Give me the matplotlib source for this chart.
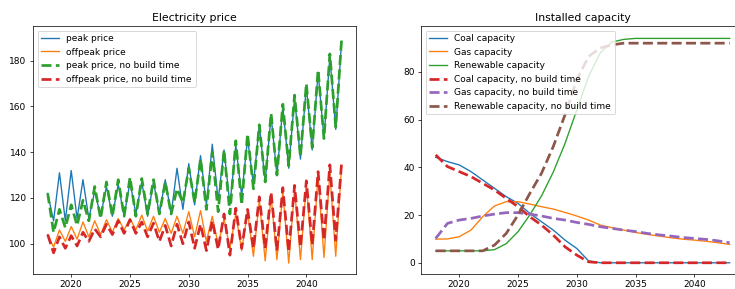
import matplotlib.pyplot as plt

# seasonal price data: winter highs at the start of each year, summer lows mid-year
peak_years = list(range(2018, 2044))
trough_years = [y + 0.5 for y in range(2018, 2043)]

peak_hi = [122, 131, 132, 128, 123, 125, 126, 127, 127, 127, 128, 133, 135,
           138.5, 143.5, 141, 143, 146, 152, 156, 160, 164, 169, 175, 182, 188.5]
peak_lo = [110, 110, 111, 111, 112, 112, 112, 113, 112, 113, 113, 115, 117,
           117, 119, 117, 121, 126, 127, 130, 133, 137, 141, 146, 150]

offpeak_hi = [104, 106, 107.5, 109.5, 110, 110.5, 111, 111, 112.5, 112, 111, 112, 114,
              114.5, 112, 111, 113, 114, 119, 121, 123, 124, 126, 130, 131, 134]
offpeak_lo = [98.5, 101, 102, 103, 104, 105, 106, 106, 105.5, 105, 104.5, 104.5, 103,
              101, 99.5, 98, 97, 94.5, 92.5, 93, 91.5, 93, 93, 94, 94.5]

peak_nb_hi = [122, 115, 117, 119, 125, 127, 128, 129, 128.5, 128, 127, 124, 133,
              137, 140, 141, 145, 148, 152, 157, 161, 165, 170, 176, 183, 189.5]
peak_nb_lo = [105, 107, 108, 110, 111, 112, 112, 112, 113, 113, 113, 118, 118,
              115, 114, 113, 117, 124, 127, 130, 134, 138, 142, 146, 151]

offpeak_nb_hi = [104, 103, 103.5, 105, 106.5, 108.5, 110, 110.5, 109.5, 109, 108, 108.5, 109.5,
                 108.5, 110, 113, 115.5, 115, 120.5, 122.5, 124.5, 125.5, 127.5, 131.5, 134.5, 135.5]
offpeak_nb_lo = [96, 98, 99, 101, 103, 104, 104.5, 104.5, 103, 101, 99, 100, 98,
                 97, 97.5, 95, 98, 98, 98, 97, 96.5, 98.5, 99.5, 101.5, 101.5]

# installed capacity, yearly
cap_years = list(range(2018, 2044))
coal = [44.2, 42.4, 41, 38.2, 34.7, 31.2, 27.7, 24.9, 20.7, 17.2, 13.7, 9.5, 6,
        0.8, 0, 0, 0, 0, 0, 0, 0, 0, 0, 0, 0, 0]
gas = [9.9, 10, 10.9, 13.7, 19.3, 23.8, 25.6, 25.6, 24.6, 23.5, 22.5, 21.1, 19.6,
       17.9, 15.8, 14.7, 13.7, 12.7, 11.9, 11.2, 10.5, 9.9, 9.5, 9.0, 8.4, 7.7]
renew = [5, 5, 5, 5, 5, 5.5, 8, 13, 20, 28, 38, 50, 64,
         78, 88, 92.5, 93.6, 94, 94, 94, 94, 94, 94, 94, 94, 94]
coal_nb = [45.2, 40.3, 38.2, 36.1, 33.3, 30.5, 27, 23.5, 19.3, 15.8, 11.6, 6.7, 3.2,
           0.4, 0, 0, 0, 0, 0, 0, 0, 0, 0, 0, 0, 0]
gas_nb = [10.2, 16.5, 17.9, 18.6, 19.6, 20.4, 21, 21, 20.4, 19.6, 18.6, 17.9, 16.9,
          16.1, 15.1, 14.4, 13.7, 13.1, 12.3, 11.7, 11.2, 10.6, 10.2, 9.8, 9.2, 8.4]
renew_nb = [5, 5, 5, 5, 5, 7.4, 12.3, 20, 29, 37.5, 48.7, 62, 76.6,
            86.4, 90, 91.3, 92, 92, 92, 92, 92, 92, 92, 92, 92, 92]


def zigzag(highs, lows):
    t, v = [], []
    for i, h in enumerate(highs):
        t.append(peak_years[i])
        v.append(h)
        if i < len(lows):
            t.append(trough_years[i])
            v.append(lows[i])
    return t, v


DPI = 65
fig = plt.figure(figsize=(735 / DPI, 289 / DPI), dpi=DPI)
ax1 = fig.add_axes([33 / 735, 15 / 289, 323.3 / 735, 248 / 289])
ax2 = fig.add_axes([421 / 735, 15 / 289, 323.3 / 735, 248 / 289])

t, v = zigzag(peak_hi, peak_lo)
ax1.plot(t, v, label='peak price')
t, v = zigzag(offpeak_hi, offpeak_lo)
ax1.plot(t, v, label='offpeak price')
t, v = zigzag(peak_nb_hi, peak_nb_lo)
ax1.plot(t, v, '--', lw=3, label='peak price, no build time')
t, v = zigzag(offpeak_nb_hi, offpeak_nb_lo)
ax1.plot(t, v, '--', lw=3, label='offpeak price, no build time')
ax1.set_title('Electricity price')
ax1.set_xlim(2016.75, 2044.25)
ax1.set_ylim(86.75, 195.2)
ax1.legend(loc='upper left')

ax2.plot(cap_years, coal, label='Coal capacity')
ax2.plot(cap_years, gas, label='Gas capacity')
ax2.plot(cap_years, renew, label='Renewable capacity')
ax2.plot(cap_years, coal_nb, '--', lw=3, label='Coal capacity, no build time')
ax2.plot(cap_years, gas_nb, '--', lw=3, label='Gas capacity, no build time')
ax2.plot(cap_years, renew_nb, '--', lw=3, label='Renewable capacity, no build time')
ax2.set_title('Installed capacity')
ax2.set_xlim(2016.75, 2044.25)
ax2.set_ylim(-4.7, 99.2)
ax2.legend(loc='upper left')

for ax in (ax1, ax2):
    ax.set_xticks([2020, 2025, 2030, 2035, 2040])

fig.savefig('out.png', dpi=DPI)
